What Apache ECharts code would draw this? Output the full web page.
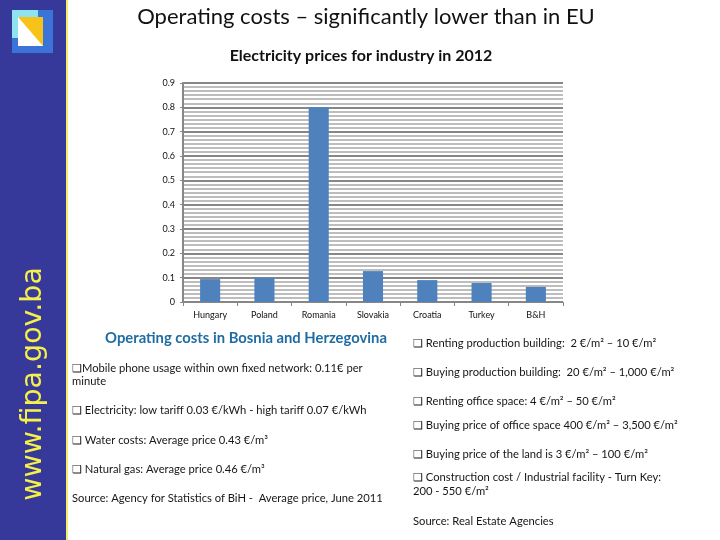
<!DOCTYPE html>
<html>
<head>
<meta charset="utf-8">
<script src="https://cdn.jsdelivr.net/npm/echarts@6/dist/echarts.min.js"></script>
<style>html,body{margin:0;padding:0;background:#fff}#c{width:720px;height:540px}</style>
</head>
<body>
<div id="c"></div>
<script>
const categories = ['Hungary', 'Poland', 'Romania', 'Slovakia', 'Croatia', 'Turkey', 'B&H'];
const prices = [0.094, 0.1, 0.8, 0.127, 0.09, 0.078, 0.062];
const yTicks = [0, 0.1, 0.2, 0.3, 0.4, 0.5, 0.6, 0.7, 0.8, 0.9];

const leftLines = [
  ['❑Mobile phone usage within own fixed network: 0.11€ per', 368],
  ['minute', 381],
  ['❑ Electricity: low tariff 0.03 €/kWh - high tariff 0.07 €/kWh', 410],
  ['❑ Water costs: Average price 0.43 €/m³', 440],
  ['❑ Natural gas: Average price 0.46 €/m³', 469],
  ['Source: Agency for Statistics of BiH -  Average price, June 2011', 498]
];
const rightLines = [
  ['❑ Renting production building:  2 €/m² – 10 €/m²', 343],
  ['❑ Buying production building:  20 €/m² – 1,000 €/m²', 372],
  ['❑ Renting office space: 4 €/m² – 50 €/m²', 401],
  ['❑ Buying price of office space 400 €/m² – 3,500 €/m²', 425],
  ['❑ Buying price of the land is 3 €/m² – 100 €/m²', 454],
  ['❑ Construction cost / Industrial facility - Turn Key:', 477],
  ['200 - 550 €/m²', 491],
  ['Source: Real Estate Agencies', 521]
];

const txt = (s, x, y) => ({
  type: 'text', x: x, y: y,
  style: { text: s, fill: '#161616', font: '11.2px Lato', textAlign: 'left', textVerticalAlign: 'middle' }
});

const graphics = [
  { type: 'rect', shape: { x: 0, y: 0, width: 66, height: 540 }, style: { fill: '#36389a' }, z: 0 },
  { type: 'rect', shape: { x: 66, y: 0, width: 2, height: 540 }, style: { fill: '#f2ee6a' }, z: 0 },
  // logo
  { type: 'rect', shape: { x: 12, y: 10, width: 41, height: 43 }, style: { fill: '#3b74d8' }, z: 1 },
  { type: 'rect', shape: { x: 12, y: 10, width: 26, height: 28 }, style: { fill: '#8fe3f0' }, z: 1 },
  { type: 'rect', shape: { x: 18, y: 17, width: 25, height: 29 }, style: { fill: '#ffffff' }, z: 2 },
  { type: 'polygon', shape: { points: [[18, 17], [43, 17], [43, 46]] }, style: { fill: '#f7c21a' }, z: 3 },
  // vertical url
  { type: 'text', x: 34, y: 384, rotation: Math.PI / 2,
    style: { text: 'www.fipa.gov.ba', fill: '#f5f04a', font: '28.5px "DejaVu Sans"', textAlign: 'center', textVerticalAlign: 'middle' }, z: 5 },
  // titles
  { type: 'text', x: 366, y: 17, style: { text: 'Operating costs – significantly lower than in EU', fill: '#111', font: '22px Lato', textAlign: 'center', textVerticalAlign: 'middle' } },
  { type: 'text', x: 361, y: 56, style: { text: 'Electricity prices for industry in 2012', fill: '#111', font: 'bold 16px Lato', textAlign: 'center', textVerticalAlign: 'middle' } },
  { type: 'text', x: 246, y: 338, style: { text: 'Operating costs in Bosnia and Herzegovina', fill: '#1f6ca3', font: 'bold 14.8px Lato', textAlign: 'center', textVerticalAlign: 'middle' } }
];
leftLines.forEach(([s, y]) => graphics.push(txt(s, 72, y)));
rightLines.forEach(([s, y]) => graphics.push(txt(s, 413, y)));

const chart = echarts.init(document.getElementById('c'));
chart.setOption({
  animation: false,
  grid: { left: 183, top: 83, width: 380, height: 219, containLabel: false },
  xAxis: {
    type: 'category', data: categories,
    axisLine: { lineStyle: { color: '#878787', width: 1 } },
    axisTick: { show: true, alignWithLabel: false, length: 4, lineStyle: { color: '#878787' } },
    axisLabel: { color: '#111', fontSize: 9, fontFamily: 'Lato', margin: 9, interval: 0 }
  },
  yAxis: {
    type: 'value', min: yTicks[0], max: yTicks[yTicks.length - 1], interval: 0.1,
    axisLine: { show: true, lineStyle: { color: '#878787', width: 2 } },
    axisTick: { show: true, length: 3, lineStyle: { color: '#878787' } },
    axisLabel: { color: '#111', fontSize: 9, fontFamily: 'Lato', margin: 8 },
    splitLine: { show: true, lineStyle: { color: '#878787', width: 2 } },
    minorTick: { show: false, splitNumber: 6 },
    minorSplitLine: { show: true, lineStyle: { color: '#bdbdbd', width: 2 } }
  },
  series: [{
    type: 'bar', data: prices, barWidth: '37%',
    itemStyle: { color: '#4f81bd' }
  }],
  graphic: graphics
});
</script>
</body>
</html>
